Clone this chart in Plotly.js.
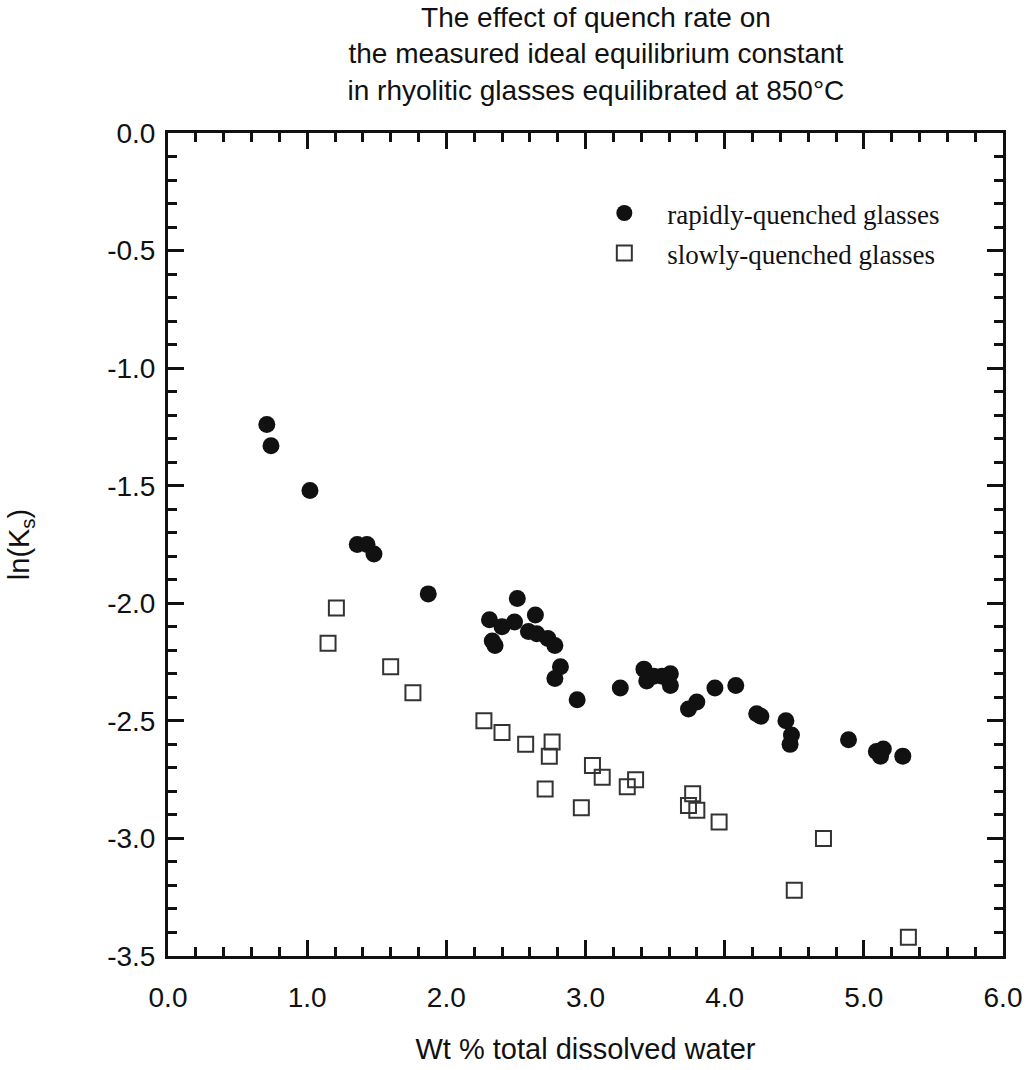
<!DOCTYPE html>
<html>
<head>
<meta charset="utf-8">
<script src="https://cdn.plot.ly/plotly-3.0.1.min.js"></script>
<style>html,body{margin:0;padding:0;background:#fff;}</style>
</head>
<body>
<div id="chart" style="width:1031px;height:1070px;"></div>
<script>
// rapidly-quenched glasses
var rapidX = [0.71,0.74,1.02,1.36,1.43,1.48,1.87,2.31,2.33,2.35,2.40,2.49,2.51,2.59,2.64,2.65,2.73,2.78,2.82,2.78,2.94,3.25,3.42,3.44,3.49,3.55,3.61,3.61,3.74,3.80,3.93,4.08,4.23,4.26,4.44,4.48,4.47,4.89,5.09,5.14,5.12,5.28];
var rapidY = [-1.24,-1.33,-1.52,-1.75,-1.75,-1.79,-1.96,-2.07,-2.16,-2.18,-2.10,-2.08,-1.98,-2.12,-2.05,-2.13,-2.15,-2.18,-2.27,-2.32,-2.41,-2.36,-2.28,-2.33,-2.31,-2.31,-2.30,-2.35,-2.45,-2.42,-2.36,-2.35,-2.47,-2.48,-2.50,-2.56,-2.60,-2.58,-2.63,-2.62,-2.65,-2.65];
// slowly-quenched glasses
var slowX = [1.15,1.21,1.60,1.76,2.27,2.40,2.57,2.76,2.74,2.71,2.97,3.05,3.12,3.30,3.36,3.77,3.74,3.80,3.96,4.50,4.71,5.32];
var slowY = [-2.17,-2.02,-2.27,-2.38,-2.50,-2.55,-2.60,-2.59,-2.65,-2.79,-2.87,-2.69,-2.74,-2.78,-2.75,-2.81,-2.86,-2.88,-2.93,-3.22,-3.00,-3.42];
// tick labels
var xTickVals = [0,1,2,3,4,5,6];
var xTickText = ["0.0","1.0","2.0","3.0","4.0","5.0","6.0"];
var yTickVals = [0,-0.5,-1,-1.5,-2,-2.5,-3,-3.5];
var yTickText = ["0.0","-0.5","-1.0","-1.5","-2.0","-2.5","-3.0","-3.5"];

var sans = "Liberation Sans, Arial, Helvetica, sans-serif";

var traces = [
  {x: rapidX, y: rapidY, type: 'scatter', mode: 'markers', name: 'rapidly-quenched glasses',
   legendgroup: 'a',
   marker: {symbol: 'circle', size: 17, color: '#111111', line: {width: 0}}},
  {x: slowX, y: slowY, type: 'scatter', mode: 'markers', name: 'slowly-quenched glasses',
   legendgroup: 'b',
   marker: {symbol: 'square-open', size: 15, color: '#333333', line: {width: 2, color: '#333333'}}}
];

var axisCommon = {
  showline: true, linecolor: '#111', linewidth: 3, mirror: 'ticks',
  ticks: 'inside', ticklen: 16, tickwidth: 3, tickcolor: '#111',
  showgrid: false, zeroline: false,
  tickfont: {family: sans, size: 28, color: '#111'}
};

var layout = {
  width: 1031, height: 1070,
  margin: {l: 168, r: 28, t: 133, b: 114},
  paper_bgcolor: '#fff', plot_bgcolor: '#fff',
  showlegend: true,
  title: {text: 'The effect of quench rate on<br>the measured ideal equilibrium constant<br>in rhyolitic glasses equilibrated at 850°C',
          font: {family: sans, size: 28, color: '#111'}, x: 0.578, xanchor: 'center', y: 0.975, yanchor: 'top'},
  xaxis: Object.assign({}, axisCommon, {
    range: [0, 6], tickvals: xTickVals, ticktext: xTickText, ticklabelstandoff: 14,
    minor: {dtick: 0.2, ticklen: 9, tickwidth: 3, tickcolor: '#111', ticks: 'inside', showgrid: false},
    title: {text: 'Wt % total dissolved water', font: {family: sans, size: 29, color: '#111'}, standoff: 28}
  }),
  yaxis: Object.assign({}, axisCommon, {
    range: [-3.5, 0], tickvals: yTickVals, ticktext: yTickText, ticklabelstandoff: 4,
    minor: {dtick: 0.1, ticklen: 9, tickwidth: 3, tickcolor: '#111', ticks: 'inside', showgrid: false},
    title: {text: 'ln(K<sub>s</sub>)', font: {family: sans, size: 29, color: '#111'}, standoff: 70}
  }),
  legend: {x: 0.495, y: 0.932, xanchor: 'left', yanchor: 'top', bgcolor: 'rgba(0,0,0,0)',
           borderwidth: 0, traceorder: 'grouped', tracegroupgap: 2, itemwidth: 76,
           font: {family: 'Liberation Serif, Times New Roman, serif', size: 27, color: '#111'}}
};

Plotly.newPlot('chart', traces, layout, {displayModeBar: false, staticPlot: true});
</script>
</body>
</html>
